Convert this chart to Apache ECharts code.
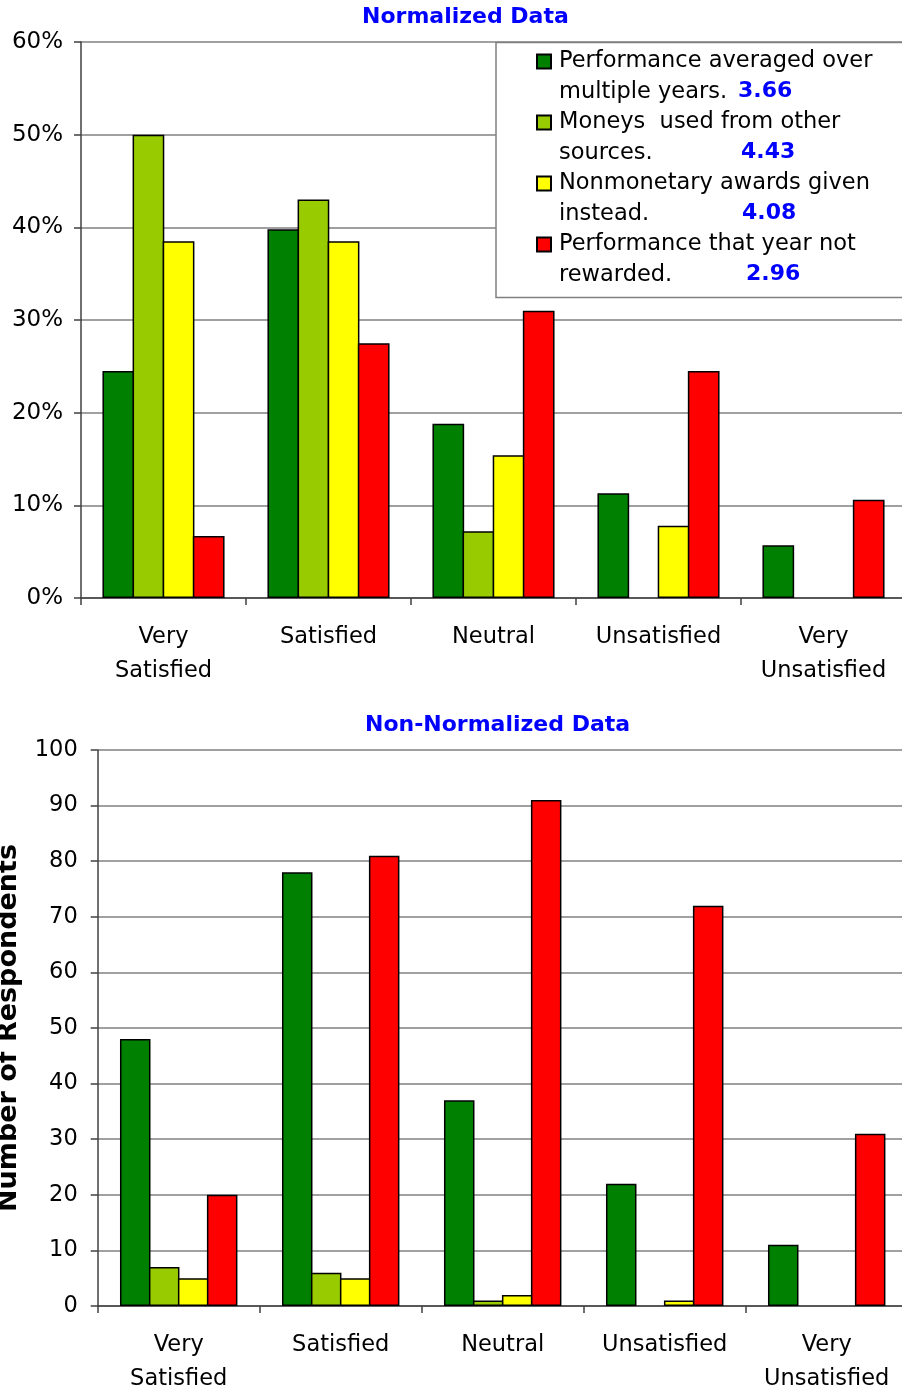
<!DOCTYPE html>
<html><head><meta charset="utf-8">
<script src="https://cdn.jsdelivr.net/npm/echarts@6/dist/echarts.min.js"></script>
<style>html,body{margin:0;padding:0;background:#fff}#c{width:902px;height:1393px}</style>
</head><body><div id="c"></div>
<script>
// ---- data ----
const categories = ['Very\nSatisfied', 'Satisfied', 'Neutral', 'Unsatisfied', 'Very\nUnsatisfied'];
const seriesNames = [
  'Performance averaged over multiple years.',
  'Moneys  used from other sources.',
  'Nonmonetary awards given instead.',
  'Performance that year not rewarded.'
];
const legendLine1 = ['Performance averaged over', 'Moneys  used from other', 'Nonmonetary awards given', 'Performance that year not'];
const legendLine2 = ['multiple years.', 'sources.', 'instead.', 'rewarded.'];
const meanScores = ['3.66', '4.43', '4.08', '2.96'];

// Normalized data (percent of respondents)
const pctAveraged    = [24.5, 39.8, 18.8, 11.3, 5.7];
const pctOtherMoney  = [50.0, 43.0, 7.2, 0, 0];
const pctNonmonetary = [38.5, 38.5, 15.4, 7.8, 0];
const pctNotRewarded = [6.7, 27.5, 31.0, 24.5, 10.6];

// Non-normalized data (number of respondents)
const cntAveraged    = [48, 78, 37, 22, 11];
const cntOtherMoney  = [7, 6, 1, 0, 0];
const cntNonmonetary = [5, 5, 2, 1, 0];
const cntNotRewarded = [20, 81, 91, 72, 31];

const titles = ['Normalized Data', 'Non-Normalized Data'];
const yAxisName = 'Number of Respondents';
const colors = ['#008000', '#99CC00', '#FFFF00', '#FF0000'];

// ---- chart ----
const FONT = 'DejaVu Sans';
const pctSets = [pctAveraged, pctOtherMoney, pctNonmonetary, pctNotRewarded];
const cntSets = [cntAveraged, cntOtherMoney, cntNonmonetary, cntNotRewarded];

const axisLineStyle = { color: '#404040', width: 1.5 };
const splitLineStyle = { color: '#808080', width: 1.5 };

function xAxis(gi) {
  return {
    type: 'category', gridIndex: gi, data: categories,
    axisLine: { show: true, lineStyle: axisLineStyle },
    axisTick: { show: true, length: 7, interval: 0, alignWithLabel: false, lineStyle: axisLineStyle },
    axisLabel: { interval: 0, margin: 22, lineHeight: 34, fontSize: 22.5, fontFamily: FONT, color: '#000' },
    splitLine: { show: false }
  };
}

// zero-height bars get no outline
const toItems = (arr) => arr.map(v => v === 0 ? { value: 0, itemStyle: { borderWidth: 0 } } : v);

const series = [];
pctSets.forEach((d, i) => series.push({
  type: 'bar', name: seriesNames[i], xAxisIndex: 0, yAxisIndex: 0, data: toItems(d),
  barGap: '-5%', barCategoryGap: '26%',
  itemStyle: { color: colors[i], borderColor: '#000', borderWidth: 1.5 }
}));
cntSets.forEach((d, i) => series.push({
  type: 'bar', name: seriesNames[i], xAxisIndex: 1, yAxisIndex: 1, data: toItems(d),
  barGap: '-5%', barCategoryGap: '27.5%',
  itemStyle: { color: colors[i], borderColor: '#000', borderWidth: 1.5 }
}));

const richP = (w) => ({ width: w, fontSize: 22.5, lineHeight: 30.5, fontFamily: FONT, color: '#000' });

const option = {
  backgroundColor: '#fff',
  animation: false,
  title: [
    { text: titles[0], left: 362, top: 6, padding: 0,
      textStyle: { fontFamily: FONT, fontSize: 22, fontWeight: 'bold', color: '#0000FF' } },
    { text: titles[1], left: 365, top: 714, padding: 0,
      textStyle: { fontFamily: FONT, fontSize: 22, fontWeight: 'bold', color: '#0000FF' } }
  ],
  grid: [
    { left: 81, top: 42, width: 825, height: 556, outerBoundsMode: 'none', containLabel: false },
    { left: 97.7, top: 750, width: 810, height: 556, outerBoundsMode: 'none', containLabel: false }
  ],
  xAxis: [xAxis(0), xAxis(1)],
  yAxis: [
    { type: 'value', gridIndex: 0, min: 0, max: 60, interval: 10,
      axisLine: { show: true, lineStyle: axisLineStyle },
      axisTick: { show: true, length: 7, lineStyle: axisLineStyle },
      axisLabel: { formatter: '{value}%', margin: 18, fontSize: 23, fontFamily: FONT, color: '#000' },
      splitLine: { show: true, lineStyle: splitLineStyle } },
    { type: 'value', gridIndex: 1, min: 0, max: 100, interval: 10,
      name: yAxisName, nameLocation: 'middle', nameGap: 75, nameMoveOverlap: false,
      nameTextStyle: { fontFamily: FONT, fontSize: 27, fontWeight: 'bold', color: '#000' },
      axisLine: { show: true, lineStyle: axisLineStyle },
      axisTick: { show: true, length: 7, lineStyle: axisLineStyle },
      axisLabel: { margin: 20, fontSize: 22.5, fontFamily: FONT, color: '#000' },
      splitLine: { show: true, lineStyle: splitLineStyle } }
  ],
  graphic: [
    { type: 'rect', z: 3, shape: { x: 496, y: 42.5, width: 440, height: 255 },
      style: { fill: '#fff', stroke: '#808080', lineWidth: 1.5 } }
  ],
  legend: {
    orient: 'vertical', left: 536, top: 16, padding: 0, itemGap: -30,
    itemWidth: 14, itemHeight: 14, icon: 'rect', data: seriesNames,
    formatter: (name) => {
      const i = seriesNames.indexOf(name);
      return legendLine1[i] + '\n{p' + i + '|' + legendLine2[i] + '}{v|' + meanScores[i] + '}';
    },
    textStyle: {
      fontFamily: FONT, fontSize: 22.5, color: '#000', lineHeight: 30.5, padding: [30, 0, 0, 3],
      rich: {
        p0: richP(179), p1: richP(182), p2: richP(183), p3: richP(187),
        v: { fontFamily: FONT, fontWeight: 'bold', color: '#0000FF', fontSize: 22, lineHeight: 30.5 }
      }
    }
  },
  series: series
};

const chart = echarts.init(document.getElementById('c'), null, { renderer: 'canvas' });
chart.setOption(option);
</script>
</body></html>
